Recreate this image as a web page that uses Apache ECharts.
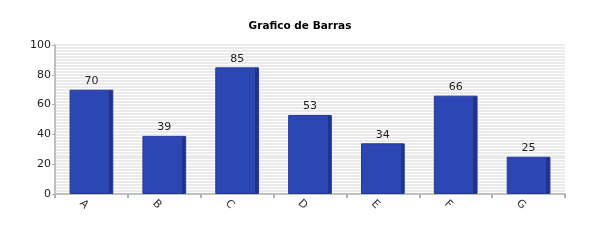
<!DOCTYPE html>
<html>
<head>
<meta charset="utf-8">
<script src="https://cdn.jsdelivr.net/npm/echarts@6/dist/echarts.min.js"></script>
<style>
  html, body { margin: 0; padding: 0; background: #ffffff; }
  #chart { width: 600px; height: 250px; }
</style>
</head>
<body>
<div id="chart"></div>
<script>
// Category names and bar values
const categories = ['A', 'B', 'C', 'D', 'E', 'F', 'G'];
const values = [70, 39, 85, 53, 34, 66, 25];
// Value-axis range and ticks
const yMin = 0;
const yMax = 100;
const yStep = 20;

const FONT = 'DejaVu Sans';

// Bar face with a darker strip along its right edge
const barFill = new echarts.graphic.LinearGradient(0, 0, 1, 0, [
  { offset: 0, color: '#2c46b3' },
  { offset: 0.905, color: '#2c46b3' },
  { offset: 0.905, color: '#213389' },
  { offset: 1, color: '#213389' }
]);

const chart = echarts.init(document.getElementById('chart'), null, { renderer: 'canvas' });

chart.setOption({
  animation: false,
  backgroundColor: '#ffffff',
  title: {
    text: 'Grafico de Barras',
    left: 'center',
    top: 16,
    textStyle: { fontFamily: FONT, fontSize: 10.5, fontWeight: 'bold', color: '#000000' }
  },
  grid: { left: 55, right: 35, top: 45, bottom: 56, containLabel: false },
  xAxis: {
    type: 'category',
    data: categories,
    boundaryGap: true,
    axisLine: { lineStyle: { color: '#c0c0c0', width: 2 } },
    axisTick: { show: true, length: 4, lineStyle: { color: '#b0b0b0', width: 2 } },
    axisLabel: {
      rotate: -45,
      align: 'center',
      verticalAlign: 'top',
      padding: [5, 0, 0, 0],
      margin: 3,
      fontFamily: FONT,
      fontSize: 11,
      color: '#333333'
    },
    splitLine: { show: false }
  },
  yAxis: {
    type: 'value',
    min: yMin,
    max: yMax,
    interval: yStep,
    axisLine: { show: true, lineStyle: { color: '#c0c0c0', width: 2 } },
    axisTick: { show: true, length: 3, lineStyle: { color: '#b0b0b0', width: 1 } },
    axisLabel: { margin: 4, fontFamily: FONT, fontSize: 11, color: '#222222' },
    splitLine: { show: true, lineStyle: { color: '#e4e4e4', width: 1.5 } },
    minorTick: { show: false, splitNumber: 10 },
    minorSplitLine: { show: true, lineStyle: { color: '#e4e4e4', width: 1.5 } }
  },
  series: [{
    type: 'bar',
    data: values,
    barWidth: '60%',
    itemStyle: { color: barFill, borderColor: '#23379a', borderWidth: 1 },
    label: {
      show: true,
      position: 'top',
      distance: 3,
      fontFamily: FONT,
      fontSize: 11,
      color: '#222222'
    }
  }]
});
</script>
</body>
</html>
